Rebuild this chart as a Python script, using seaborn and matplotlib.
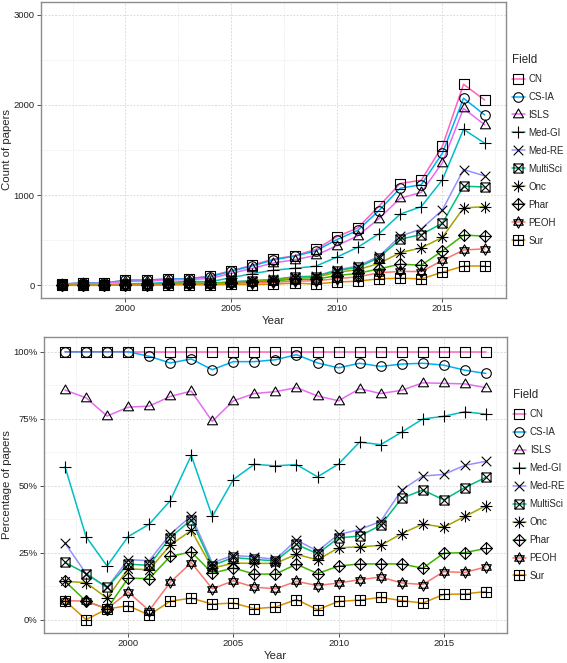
import numpy as np
import pandas as pd
import matplotlib
matplotlib.use("Agg")
import matplotlib.pyplot as plt
from matplotlib.path import Path
from matplotlib.lines import Line2D
from matplotlib.ticker import MultipleLocator, FuncFormatter
import seaborn as sns

# Données (1997-2017)
years = list(range(1997, 2018))
fields = ["CN", "CS-IA", "ISLS", "Med-GI", "Med-RE", "MultiSci", "Onc", "Phar", "PEOH", "Sur"]

# Nombre d'articles par domaine
count_cn = [14, 29, 25, 58, 59, 72, 75, 104, 162, 224, 292, 328, 398, 539, 638, 878, 1129, 1166, 1542, 2229, 2055]
count_cs_ia = [14, 29, 25, 58, 58, 69, 73, 97, 156, 216, 283, 324, 381, 507, 611, 830, 1077, 1116, 1465, 2075, 1889]
count_isls = [12, 24, 19, 46, 47, 60, 64, 77, 132, 189, 248, 284, 332, 440, 550, 741, 966, 1031, 1360, 1962, 1780]
count_med_gi = [8, 9, 5, 18, 21, 32, 46, 40, 85, 130, 168, 190, 212, 313, 423, 573, 790, 873, 1170, 1730, 1576]
count_med_re = [4, 5, 3, 13, 13, 23, 29, 22, 39, 52, 66, 97, 102, 171, 214, 322, 546, 625, 836, 1284, 1214]
count_multisci = [3, 5, 3, 12, 12, 22, 28, 21, 38, 50, 64, 92, 98, 164, 199, 309, 511, 564, 689, 1099, 1091]
count_onc = [2, 4, 2, 11, 11, 20, 25, 20, 34, 47, 61, 80, 89, 144, 174, 243, 362, 416, 532, 858, 873]
count_phar = [2, 2, 1, 9, 9, 17, 19, 18, 31, 38, 50, 68, 68, 108, 133, 183, 235, 224, 382, 557, 547]
count_peoh = [1, 2, 1, 6, 2, 10, 16, 12, 23, 27, 34, 47, 51, 74, 95, 140, 155, 153, 276, 392, 405]
count_sur = [1, 0, 1, 3, 1, 5, 6, 6, 10, 9, 14, 25, 15, 37, 47, 73, 80, 72, 145, 214, 216]

# Pourcentage d'articles par domaine
pct_cn = [100, 100, 100, 100, 100, 100, 100, 100, 100, 100, 100, 100, 100, 100, 100, 100, 100, 100, 100, 100, 100]
pct_cs_ia = [100, 100, 100, 100, 98.3, 95.8, 97.3, 93.3, 96.3, 96.3, 97.0, 98.9, 95.8, 94.0, 95.7, 94.5, 95.4, 95.7, 95.0, 93.1, 91.9]
pct_isls = [85.7, 82.8, 76.0, 79.3, 79.7, 83.3, 85.3, 74.0, 81.7, 84.4, 85.1, 86.6, 83.5, 81.7, 86.2, 84.4, 85.6, 88.4, 88.2, 88.0, 86.6]
pct_med_gi = [57.1, 31.0, 20.0, 31.0, 35.6, 44.4, 61.3, 38.5, 52.3, 58.0, 57.4, 57.9, 53.3, 58.1, 66.3, 65.3, 70.0, 74.9, 75.9, 77.6, 76.7]
pct_med_re = [28.6, 17.2, 12.0, 22.4, 22.0, 31.9, 38.7, 21.2, 24.0, 23.4, 22.5, 29.7, 25.6, 31.8, 33.6, 36.7, 48.4, 53.6, 54.2, 57.6, 59.1]
pct_multisci = [21.4, 17.2, 12.0, 20.7, 20.3, 30.6, 37.3, 20.2, 23.2, 22.5, 21.9, 28.1, 24.6, 30.5, 31.2, 35.2, 45.3, 48.4, 44.7, 49.3, 53.1]
pct_onc = [14.3, 13.8, 8.0, 19.0, 18.6, 27.8, 33.3, 19.2, 21.1, 21.0, 21.0, 24.4, 22.3, 26.8, 27.2, 27.7, 32.1, 35.7, 34.5, 38.5, 42.5]
pct_phar = [14.3, 6.9, 4.0, 15.5, 15.3, 23.6, 25.3, 17.3, 19.3, 17.0, 17.0, 20.7, 17.2, 20.0, 20.8, 20.8, 20.8, 19.2, 24.8, 25.0, 26.6]
pct_peoh = [7.1, 6.9, 4.0, 10.3, 3.4, 13.9, 21.3, 11.5, 14.5, 12.1, 11.5, 14.3, 12.7, 13.7, 14.9, 15.9, 13.7, 13.1, 17.9, 17.6, 19.7]
pct_sur = [7.1, 0.0, 4.0, 5.2, 1.7, 6.9, 8.0, 5.8, 6.2, 4.1, 4.7, 7.5, 3.7, 6.8, 7.3, 8.3, 7.1, 6.2, 9.4, 9.6, 10.5]

counts = [count_cn, count_cs_ia, count_isls, count_med_gi, count_med_re,
          count_multisci, count_onc, count_phar, count_peoh, count_sur]
pcts = [pct_cn, pct_cs_ia, pct_isls, pct_med_gi, pct_med_re,
        pct_multisci, pct_onc, pct_phar, pct_peoh, pct_sur]

colors = ["#FF62BC", "#00B0F6", "#E76BF3", "#00BFC4", "#9590FF",
          "#00BF7D", "#A3A500", "#39B600", "#F8766D", "#D89000"]
palette = dict(zip(fields, colors))


# Marqueurs façon ggplot (formes 0,1,2,3,4,7,8,9,11,12)
def make_marker(polys=(), segs=(), circle=None):
    R = 1.4
    verts = [(R, R), (-R, -R)]
    codes = [Path.MOVETO, Path.MOVETO]
    for pts in polys:
        verts += list(pts) + [pts[0]]
        codes += [Path.MOVETO] + [Path.LINETO] * (len(pts) - 1) + [Path.CLOSEPOLY]
    for a, b in segs:
        verts += [a, b]
        codes += [Path.MOVETO, Path.LINETO]
    if circle is not None:
        c = Path.unit_circle()
        verts += [tuple(v * circle) for v in c.vertices]
        codes += list(c.codes)
    return Path(verts, codes)


sq = [(-1, -1), (1, -1), (1, 1), (-1, 1)]
tri_up = [(0, 1.2), (-1.1, -0.72), (1.1, -0.72)]
star_up = [(0, 1.25), (-1.05, -0.6), (1.05, -0.6)]
star_dn = [(0, -1.25), (-1.05, 0.6), (1.05, 0.6)]
diam = [(0, 1.3), (1.3, 0), (0, -1.3), (-1.3, 0)]

markers = {
    "CN": make_marker(polys=[sq]),
    "CS-IA": make_marker(circle=1.05),
    "ISLS": make_marker(polys=[tri_up]),
    "Med-GI": make_marker(segs=[((-1.35, 0), (1.35, 0)), ((0, -1.35), (0, 1.35))]),
    "Med-RE": make_marker(segs=[((-1.05, -1.05), (1.05, 1.05)), ((-1.05, 1.05), (1.05, -1.05))]),
    "MultiSci": make_marker(polys=[sq], segs=[((-1, -1), (1, 1)), ((-1, 1), (1, -1))]),
    "Onc": make_marker(segs=[((-1.3, 0), (1.3, 0)), ((0, -1.3), (0, 1.3)),
                             ((-0.95, -0.95), (0.95, 0.95)), ((-0.95, 0.95), (0.95, -0.95))]),
    "Phar": make_marker(polys=[diam], segs=[((-1.3, 0), (1.3, 0)), ((0, -1.3), (0, 1.3))]),
    "PEOH": make_marker(polys=[star_up, star_dn]),
    "Sur": make_marker(polys=[sq], segs=[((-1, 0), (1, 0)), ((0, -1), (0, 1))]),
}

rows = []
for f, c, p in zip(fields, counts, pcts):
    for y, cv, pv in zip(years, c, p):
        rows.append({"Year": y, "Field": f, "Count": cv, "Pct": pv})
df = pd.DataFrame(rows)

sns.set_theme(style="white")
plt.rcParams["font.family"] = ["Liberation Sans", "DejaVu Sans"]

fig = plt.figure(figsize=(5.67, 6.63), dpi=100)
ax1 = fig.add_axes([0.0723, 0.5505, 0.8197, 0.447])
ax2 = fig.add_axes([0.0775, 0.0452, 0.8165, 0.4465])

ms = 9.2


def draw_panel(ax, ycol, ylabel):
    sns.lineplot(data=df, x="Year", y=ycol, hue="Field", hue_order=fields,
                 palette=palette, linewidth=1.1, errorbar=None, legend=False, ax=ax)
    sns.lineplot(data=df, x="Year", y=ycol, style="Field", style_order=fields,
                 markers=markers, dashes=False, color="black", linewidth=0,
                 markersize=ms, markerfacecolor="none", markeredgecolor="black",
                 markeredgewidth=0.8, errorbar=None, legend=False, ax=ax)
    ax.set_xlim(1996, 2018)
    ax.xaxis.set_major_locator(MultipleLocator(5))
    ax.xaxis.set_minor_locator(MultipleLocator(2.5))
    ax.grid(which="major", color="#dcdcdc", linewidth=0.7, linestyle=(0, (2, 1.5)))
    ax.grid(which="minor", color="#e8e8e8", linewidth=0.5, linestyle=(0, (2, 1.5)))
    ax.set_axisbelow(True)
    for s in ax.spines.values():
        s.set_color("#8c8c8c")
        s.set_linewidth(1.0)
    ax.tick_params(which="major", length=3, width=0.6, color="#333333",
                   labelsize=6.8, labelcolor="#222222", pad=1.5, bottom=True, left=True)
    ax.tick_params(which="minor", length=0)
    ax.set_xlabel("Year", fontsize=8.2, labelpad=2)
    ax.set_ylabel(ylabel, fontsize=8.2, labelpad=1.2)
    handles = [Line2D([], [], color=palette[f], linewidth=1.1, marker=markers[f],
                      markersize=ms, markerfacecolor="none", markeredgecolor="black",
                      markeredgewidth=0.8) for f in fields]
    leg = ax.legend(handles, fields, title="Field", loc="center left",
                    bbox_to_anchor=(1.0, 0.5), frameon=False, fontsize=7.0,
                    title_fontsize=8.3, handlelength=1.35, handletextpad=0.4,
                    labelspacing=0.82, borderaxespad=0.2)
    leg._legend_box.align = "left"


draw_panel(ax1, "Count", "Count of papers")
ax1.set_ylim(-140, 3145)
ax1.yaxis.set_major_locator(MultipleLocator(1000))
ax1.yaxis.set_minor_locator(MultipleLocator(500))

draw_panel(ax2, "Pct", "Percentage of papers")
ax2.set_ylim(-5, 105.5)
ax2.yaxis.set_major_locator(MultipleLocator(25))
ax2.yaxis.set_minor_locator(MultipleLocator(12.5))
ax2.yaxis.set_major_formatter(FuncFormatter(lambda v, _: f"{v:.0f}%"))

fig.savefig("out.png", dpi=100)
